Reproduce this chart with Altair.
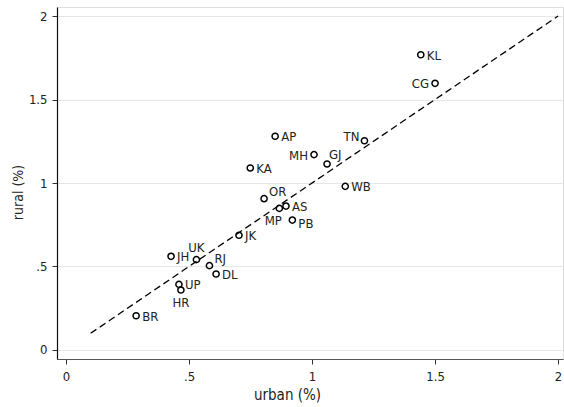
import altair as alt
import pandas as pd

# ---- data ----
states = ["AP", "MH", "TN", "GJ", "KA", "WB", "OR", "AS", "MP", "PB", "JK",
          "JH", "UK", "RJ", "DL", "UP", "HR", "BR", "KL", "CG"]
urban = [0.85, 1.008, 1.213, 1.061, 0.749, 1.135, 0.805, 0.894, 0.867, 0.92, 0.703,
         0.427, 0.53, 0.583, 0.61, 0.459, 0.467, 0.285, 1.442, 1.5]
rural = [1.28, 1.17, 1.253, 1.114, 1.09, 0.98, 0.906, 0.862, 0.848, 0.778, 0.687,
         0.561, 0.541, 0.505, 0.455, 0.393, 0.359, 0.205, 1.768, 1.597]
# marker-label clock positions (as in Stata's mlabvposition)
label_clock = [3, 9, 10, 1, 3, 3, 2, 3, 7, 4, 3,
               3, 12, 2, 3, 3, 6, 3, 3, 9]

line_x = [0.1, 2.0]
line_y = [0.1, 2.0]

x_ticks = [0, 0.5, 1, 1.5, 2]
y_ticks = [0, 0.5, 1, 1.5, 2]

df = pd.DataFrame({"state": states, "urban": urban, "rural": rural, "clock": label_clock})
df_line = pd.DataFrame({"urban": line_x, "rural": line_y})

FONT = "DejaVu Sans Condensed, Roboto Condensed, Roboto, sans-serif"
LABEL_EXPR = "replace(toString(datum.value), /^0\\./, '.')"

xscale = alt.Scale(domain=[-0.0366, 2.02], nice=False, zero=False)
yscale = alt.Scale(domain=[-0.054, 2.054], nice=False, zero=False)

xaxis = alt.Axis(values=x_ticks, labelExpr=LABEL_EXPR, title="urban (%)", grid=False,
                 tickSize=5, tickColor="#333333", domainColor="#555555", domainWidth=1.2,
                 labelPadding=6, labelFontSize=13, titleFontSize=15, titleFontWeight="normal",
                 labelFont=FONT, titleFont=FONT, labelColor="#222222", titleColor="#222222",
                 titlePadding=4, titleX=230, titleAnchor="start", titleAlign="center")
yaxis = alt.Axis(values=y_ticks, labelExpr=LABEL_EXPR, title="rural (%)", grid=True,
                 gridColor="#e6e6e6", gridWidth=1.2,
                 tickSize=5, tickColor="#333333", domainColor="#111111", domainWidth=1.2,
                 labelPadding=5, labelFontSize=13, titleFontSize=14, titleFontWeight="normal",
                 labelFont=FONT, titleFont=FONT, labelColor="#222222", titleColor="#222222",
                 titlePadding=3, titleY=185, titleAlign="center", labelAngle=0)

base = alt.Chart(df)

line = alt.Chart(df_line).mark_line(color="black", strokeWidth=1.3, strokeDash=[7, 4]).encode(
    x=alt.X("urban:Q", scale=xscale, axis=xaxis),
    y=alt.Y("rural:Q", scale=yscale, axis=yaxis),
)

points = base.mark_point(shape="circle", filled=False, color="black", size=38,
                         strokeWidth=1.5, opacity=1).encode(
    x=alt.X("urban:Q", scale=xscale),
    y=alt.Y("rural:Q", scale=yscale),
)

# label placement for each clock position: (dx, dy, align)
placement = {
    3: (6, 1, "left"),
    9: (-6, 1, "right"),
    10: (-5, -4, "right"),
    12: (0, -12, "center"),
    6: (0, 13, "center"),
    7: (-6, 13, "center"),
    4: (6, 4, "left"),
    2: (5, -7, "left"),
    1: (2, -9, "left"),
}

text_layers = []
for clock, (dx, dy, align) in placement.items():
    text_layers.append(
        base.transform_filter(alt.datum.clock == clock).mark_text(
            dx=dx, dy=dy, align=align, baseline="middle", font=FONT, fontSize=13,
            color="#222222"
        ).encode(
            x=alt.X("urban:Q", scale=xscale),
            y=alt.Y("rural:Q", scale=yscale),
            text="state:N",
        )
    )

chart = alt.layer(line, points, *text_layers).properties(
    width=506, height=352,
    autosize=alt.AutoSizeParams(type="none"),
    padding={"left": 57, "top": 7, "right": 1, "bottom": 48},
).configure_view(stroke=None).configure(background="white")

chart.save("out.html", embed_options={"renderer": "svg", "actions": False})
